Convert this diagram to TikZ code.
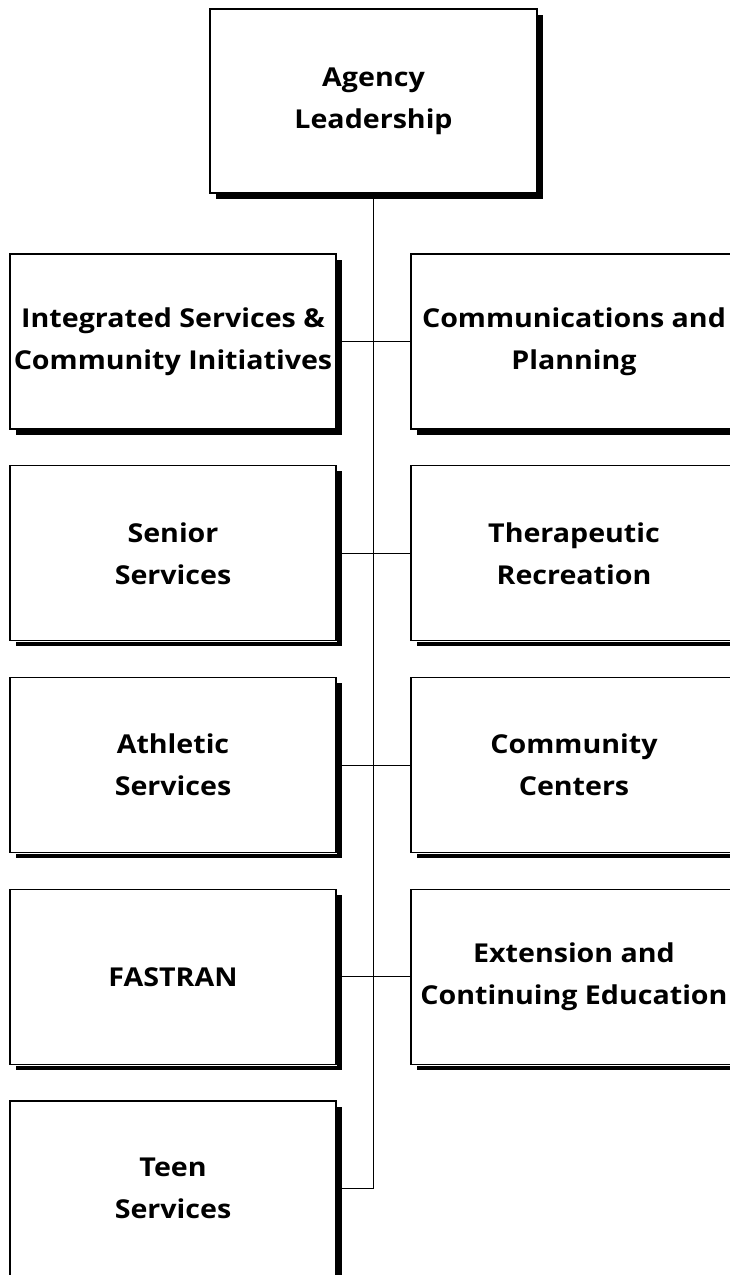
\documentclass[tikz,border=0pt]{standalone}
\usepackage{fontspec}
\setmainfont[FakeStretch=1.1]{Open Sans}
\usetikzlibrary{positioning}

\begin{document}
\begin{tikzpicture}[
    x=1pt, y=1pt,
    unit/.style={
        rectangle, draw=black, line width=1.2pt, fill=white,
        minimum width=326pt, minimum height=175pt,
        outer sep=0pt, inner sep=0pt, align=center,
        font=\fontsize{26}{42}\selectfont\bfseries,
        preaction={fill=black, transform canvas={shift={(5.5pt,-5.5pt)}}},
        preaction={draw=white, line width=2.6pt}
    },
    link/.style={line width=1pt, black},
    node distance=36.75pt and 75pt
]

% ===================================================================
% PAGE
% ===================================================================
\useasboundingbox (0,0) rectangle (730,-1275);
\clip (0,0) rectangle (730,-1275);

% ===================================================================
% LEADERSHIP
% ===================================================================
\node[unit, minimum width=327pt, minimum height=184pt] (lead) at (373.5,-101)
    {Agency\\Leadership};

% ===================================================================
% LEFT COLUMN
% ===================================================================
\node[unit] (isci) at (173,-341.5)
    {Integrated Services \&\\Community Initiatives};
\node[unit, below=of isci] (senior) {Senior\\Services};
\node[unit, below=of senior] (athletic) {Athletic\\Services};
\node[unit, below=of athletic] (fastran) {FASTRAN};
\node[unit, below=of fastran] (teen) {Teen\\Services};

% ===================================================================
% RIGHT COLUMN
% ===================================================================
\node[unit, right=of isci] (comm) {Communications and\\Planning};
\node[unit, right=of senior] (thera) {Therapeutic\\Recreation};
\node[unit, right=of athletic] (centers) {Community\\Centers};
\node[unit, right=of fastran] (ext) {Extension and\\Continuing Education};

% ===================================================================
% CONNECTORS
% ===================================================================
\draw[link] (lead.south) -- (lead.south |- teen.east) -- (teen.east);
\draw[link] (isci.east) -- (comm.west);
\draw[link] (senior.east) -- (thera.west);
\draw[link] (athletic.east) -- (centers.west);
\draw[link] (fastran.east) -- (ext.west);

\end{tikzpicture}
\end{document}
